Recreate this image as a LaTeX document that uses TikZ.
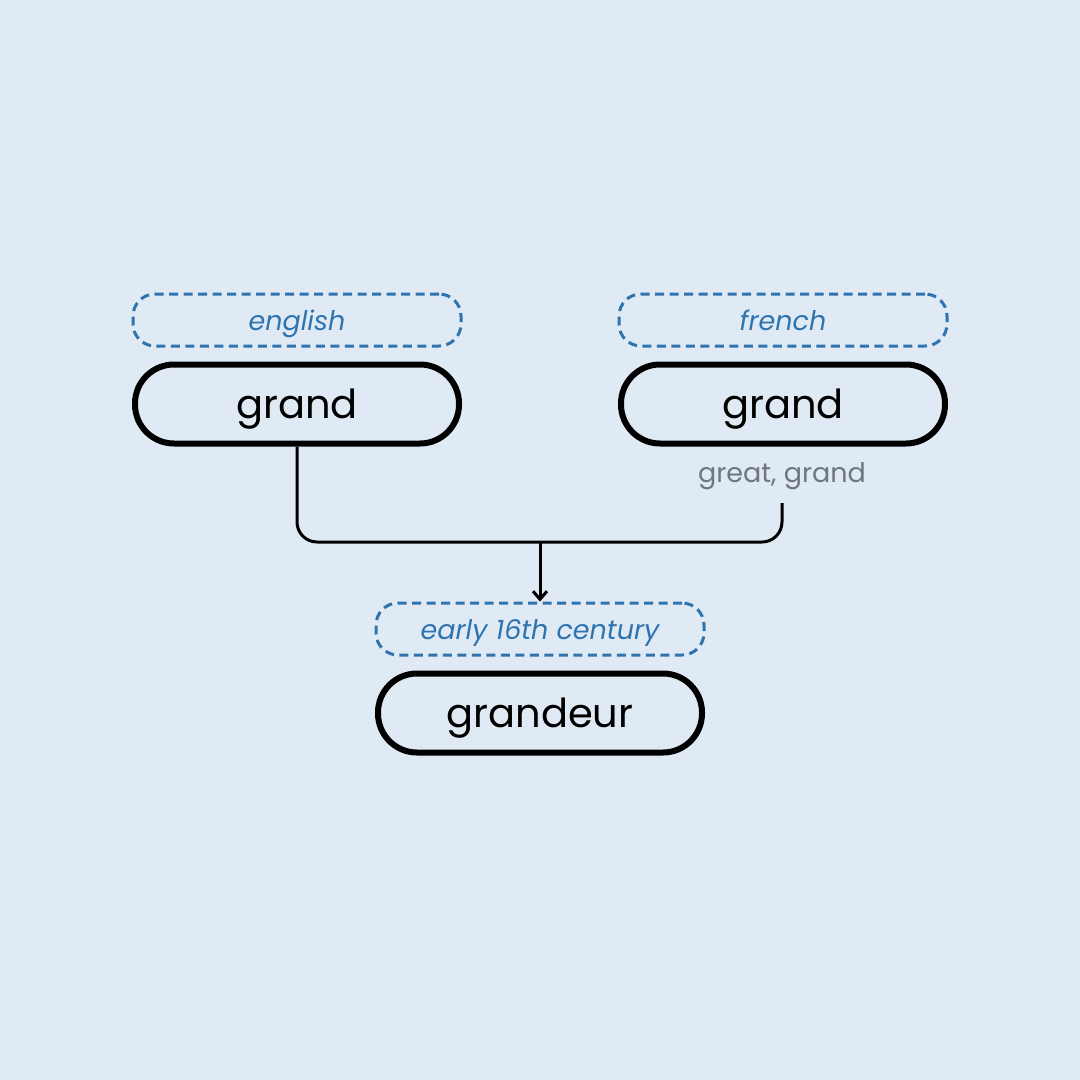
\documentclass[tikz,border=0pt]{standalone}
\usepackage{fontspec}
\setmainfont{Poppins}
\usetikzlibrary{arrows.meta,positioning}
\definecolor{bgblue}{HTML}{E0EAF4}
\definecolor{tagblue}{HTML}{2E74B0}
\definecolor{glossgray}{HTML}{6E7780}

\begin{document}
\begin{tikzpicture}[
x=1pt,y=1pt,
node distance=14pt,
word/.style={draw,line width=6pt,rounded corners=39pt,minimum width=324pt,minimum height=79pt,text depth=0pt,font=\fontsize{40}{46}\selectfont},
tag/.style={draw=tagblue,line width=3pt,dash pattern=on 9pt off 5.5pt,rounded corners=22pt,minimum width=328pt,minimum height=52pt,text depth=0pt,text=tagblue,font=\fontsize{27}{32}\selectfont\itshape},
gloss/.style={text=glossgray,font=\fontsize{27}{32}\selectfont},
conn/.style={line width=3pt,rounded corners=20pt},
arr/.style={-{Straight Barb[length=8pt,width=14pt]},line width=3pt}
]
\fill[bgblue] (0,0) rectangle (1080,-1080);
\node[word] (enGrand) at (297,-404) {grand};
\node[tag,above=of enGrand] (enTag) {english};
\node[word] (frGrand) at (783,-404) {grand};
\node[tag,above=of frGrand] (frTag) {french};
\node[gloss] (frGloss) at (782,-476) {great, grand};
\node[word] (grandeur) at (540,-713) {grandeur};
\node[tag,above=of grandeur] (grTag) {early 16th century};
\coordinate (join) at (540,-542);
\coordinate (frEnd) at (782,-503);
\draw[conn] (enGrand.south) |- (join) -| (frEnd);
\draw[arr] (join) -- (grTag.north);
\end{tikzpicture}
\end{document}
